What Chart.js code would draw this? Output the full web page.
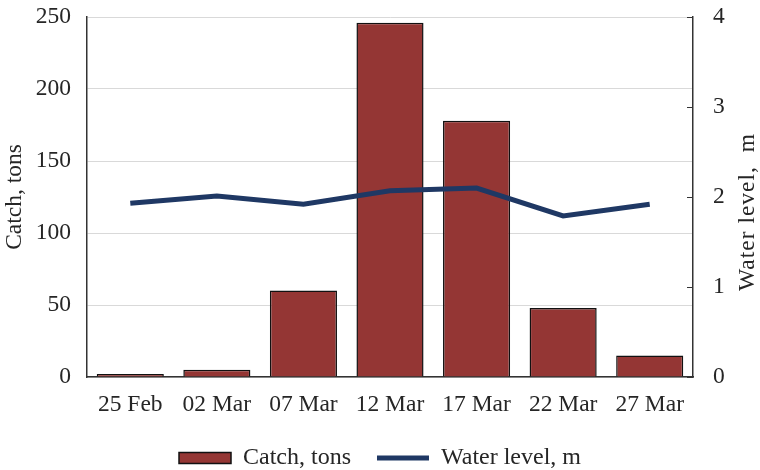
<!DOCTYPE html>
<html>
<head>
<meta charset="utf-8">
<script src="https://cdn.jsdelivr.net/npm/chart.js@4/dist/chart.umd.min.js"></script>
<style>
  html, body { margin: 0; padding: 0; background: #ffffff; }
</style>
</head>
<body>
<canvas id="chart" width="760" height="470"></canvas>
<script>
// Sampling dates and measured values
const dates = ['25 Feb', '02 Mar', '07 Mar', '12 Mar', '17 Mar', '22 Mar', '27 Mar'];
const catchTons = [2, 5, 60, 246, 178, 48, 15];
const waterLevel = [1.93, 2.01, 1.92, 2.07, 2.10, 1.79, 1.92];

// Axis tick values
const catchTicks = [0, 50, 100, 150, 200, 250];
const levelTicks = [0, 1, 2, 3, 4];

const FONT = '"Liberation Serif", "Times New Roman", serif';
const TEXT = '#262626';
const AXIS = '#333333';
const BAR = '#943634';
const BAR_EDGE = '#111111';
const LINE = '#1f3864';
const TICK_SIZE = 23.5;

// Inward tick marks and the upward-reading title on the right axis
const rightAxisExtras = {
  id: 'rightAxisExtras',
  afterDraw(chart) {
    const { ctx, chartArea } = chart;
    const s = chart.scales.y1;
    ctx.save();
    ctx.strokeStyle = AXIS;
    ctx.lineWidth = 1;
    s.ticks.forEach(t => {
      const y = Math.round(s.getPixelForValue(t.value)) + 0.5;
      ctx.beginPath();
      ctx.moveTo(s.left - 6, y);
      ctx.lineTo(s.left, y);
      ctx.stroke();
    });
    ctx.translate(s.right - 12, (chartArea.top + chartArea.bottom) / 2 + 15);
    ctx.rotate(-Math.PI / 2);
    ctx.font = '23.5px ' + FONT;
    ctx.letterSpacing = '1px';
    ctx.fillStyle = TEXT;
    ctx.textAlign = 'center';
    ctx.textBaseline = 'middle';
    ctx.fillText('Water level,  m', 0, 0);
    ctx.restore();
  }
};

// Vertical axes keep the plot flush with the layout padding
function fixedWidth(w) {
  return scale => {
    scale.width = w;
    scale.paddingTop = 0;
    scale.paddingBottom = 0;
  };
}

new Chart(document.getElementById('chart'), {
  data: {
    labels: dates,
    datasets: [
      {
        type: 'line',
        label: 'Water level, m',
        data: waterLevel,
        yAxisID: 'y1',
        borderColor: LINE,
        borderWidth: 5,
        pointRadius: 0,
        tension: 0,
        fill: false
      },
      {
        type: 'bar',
        label: 'Catch, tons',
        data: catchTons,
        yAxisID: 'y',
        backgroundColor: BAR,
        borderColor: BAR_EDGE,
        borderWidth: 1.5,
        categoryPercentage: 1,
        barPercentage: 0.775
      }
    ]
  },
  options: {
    responsive: false,
    animation: false,
    devicePixelRatio: 1,
    layout: { padding: { top: 17, right: 0, bottom: -10, left: 0 } },
    plugins: {
      tooltip: { enabled: false },
      legend: {
        position: 'bottom',
        labels: {
          usePointStyle: true,
          pointStyleWidth: 52,
          boxHeight: 11,
          padding: 2,
          color: TEXT,
          font: { family: FONT, size: 24 },
          generateLabels() {
            return [
              { text: 'Catch, tons    ', fillStyle: BAR, strokeStyle: BAR_EDGE, lineWidth: 1.5, pointStyle: 'rect', fontColor: TEXT },
              { text: 'Water level, m', fillStyle: LINE, strokeStyle: LINE, lineWidth: 5, pointStyle: 'line', fontColor: TEXT }
            ];
          }
        }
      }
    },
    scales: {
      x: {
        grid: { display: false },
        border: { display: true, color: AXIS, width: 1.5 },
        ticks: { color: TEXT, font: { family: FONT, size: TICK_SIZE }, padding: 6, maxRotation: 0 },
        afterFit(scale) { scale.height = 67; }
      },
      y: {
        position: 'left',
        min: catchTicks[0],
        max: catchTicks[catchTicks.length - 1],
        ticks: { stepSize: catchTicks[1] - catchTicks[0], color: TEXT, font: { family: FONT, size: TICK_SIZE }, padding: 16 },
        grid: { color: '#d9d9d9', drawTicks: false, lineWidth: 1 },
        border: { display: true, color: AXIS, width: 1.5 },
        title: { display: true, text: 'Catch, tons', color: TEXT, font: { family: FONT, size: TICK_SIZE }, padding: { top: 1, bottom: 0 } },
        afterFit: fixedWidth(87)
      },
      y1: {
        position: 'right',
        min: levelTicks[0],
        max: levelTicks[levelTicks.length - 1],
        ticks: { stepSize: levelTicks[1] - levelTicks[0], color: TEXT, font: { family: FONT, size: TICK_SIZE }, padding: 20 },
        grid: { drawOnChartArea: false, drawTicks: false },
        border: { display: true, color: AXIS, width: 1.5 },
        afterFit: fixedWidth(67)
      }
    }
  },
  plugins: [rightAxisExtras]
});
</script>
</body>
</html>
